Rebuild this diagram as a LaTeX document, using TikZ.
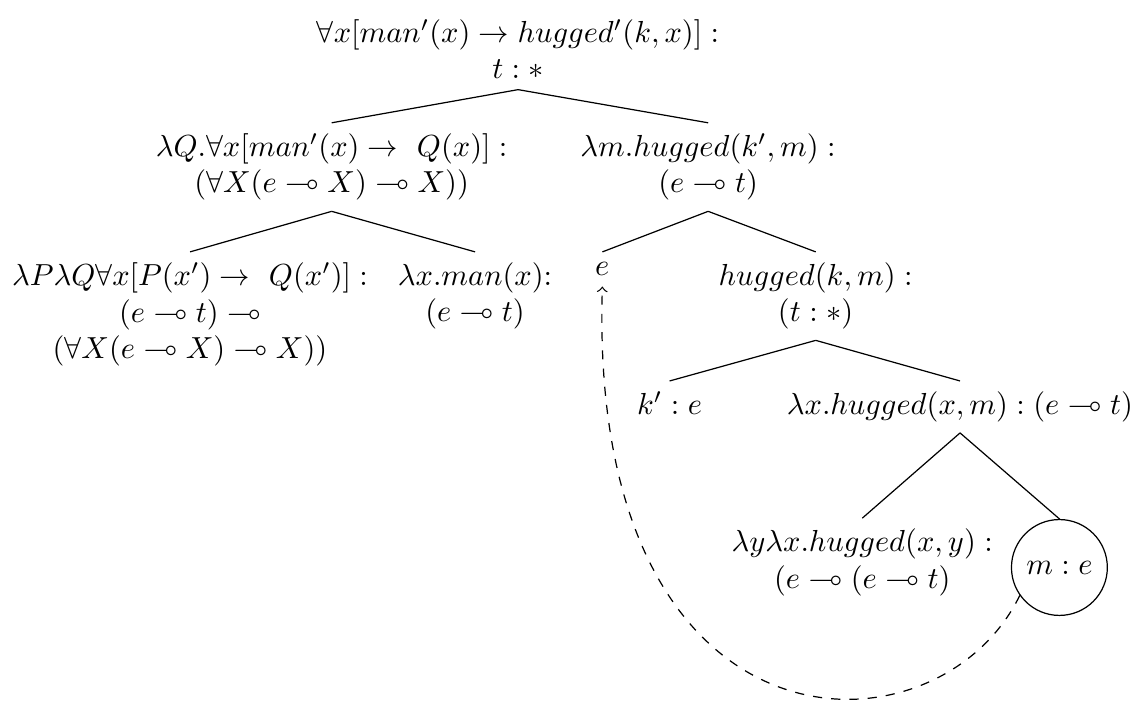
\documentclass[tikz,border=0pt]{standalone}
\usepackage{amsmath}
\usepackage{amssymb}

\begin{document}
\begin{tikzpicture}[scale=1.035,lbl/.style={align=center,anchor=north}]
    \useasboundingbox (0,0) rectangle (12.63,-7.83);
    \node[align=center,anchor=south] (root) at (5.78,-1.00) {$\forall x[man'(x)\rightarrow hugged'(k,x)]:$\\ $t:*$};
    \node[lbl] (quant) at (3.70,-1.37) {$\lambda Q.\forall x[man'(x)\rightarrow\ Q(x)]:$\\ $(\forall X(e\multimap X)\multimap X))$};
    \node[lbl] (verb) at (7.90,-1.37) {$\lambda m.hugged(k',m):$\\ $(e\multimap t)$};
    \node[lbl] (det) at (2.12,-2.81) {$\lambda P\lambda Q\forall x[P(x')\rightarrow\ Q(x')]:$\\ $(e\multimap t)\multimap$\\ $(\forall X(e\multimap X)\multimap X))$};
    \node[lbl] (noun) at (5.30,-2.81) {$\lambda x.man(x)$:\\ $(e\multimap t)$};
    \node[lbl] (gap) at (6.72,-2.81) {$e$};
    \node[lbl] (clause) at (9.10,-2.81) {$hugged(k,m):$\\ $(t:*)$};
    \node[lbl] (subj) at (7.47,-4.25) {$k':e$};
    \node[lbl] (pred) at (10.71,-4.25) {$\lambda x.hugged(x,m):(e\multimap t)$};
    \node[lbl] (tv) at (9.62,-5.78) {$\lambda y\lambda x.hugged(x,y):$\\ $(e\multimap(e\multimap t)$};
    \node[lbl,draw,circle,minimum size=31.5pt] (hyp) at (11.82,-5.79) {$m:e$};
    \draw (root.south) -- (quant.north);
    \draw (root.south) -- (verb.north);
    \draw (quant.south) -- (det.north);
    \draw (quant.south) -- (noun.north);
    \draw (verb.south) -- (gap.north);
    \draw (verb.south) -- (clause.north);
    \draw (clause.south) -- (subj.north);
    \draw (clause.south) -- (pred.north);
    \draw (pred.south) -- (tv.north);
    \draw (pred.south) -- (hyp.north);
    \draw[dashed,->] (hyp.215) .. controls (10.45,-8.55) and (6.55,-8.55) .. (gap.south);
\end{tikzpicture}
\end{document}
